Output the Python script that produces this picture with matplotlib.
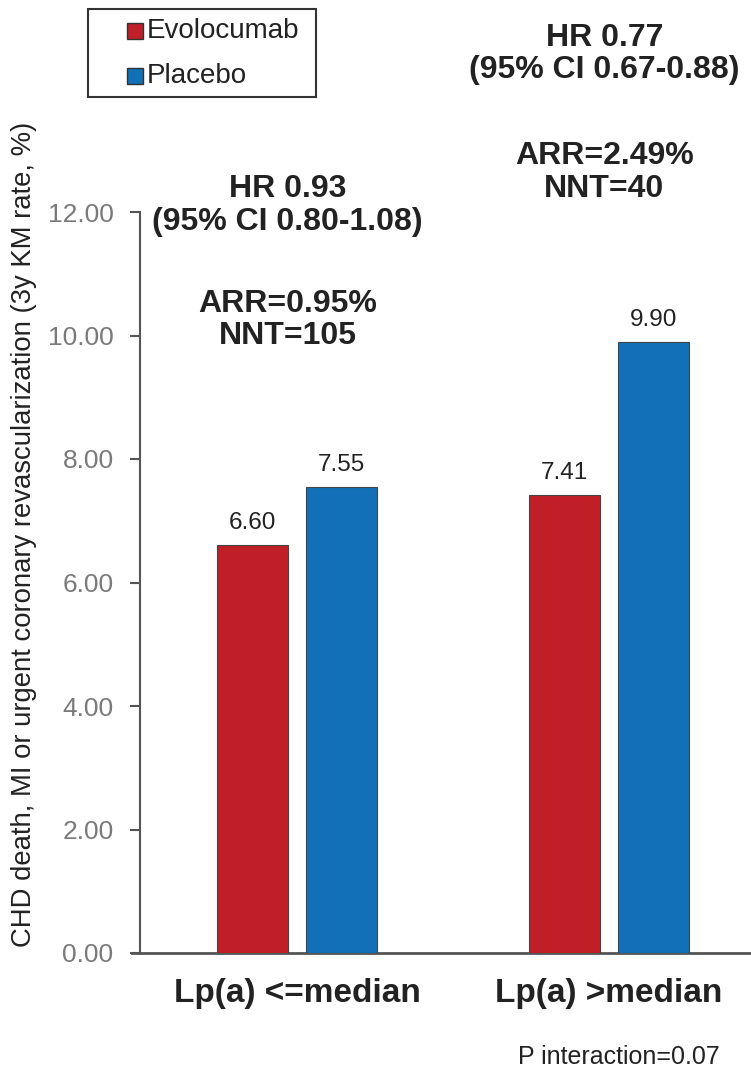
import numpy as np
import matplotlib
matplotlib.use('Agg')
import matplotlib.pyplot as plt
from matplotlib.patches import Rectangle

plt.rcParams['font.family'] = ['Liberation Sans', 'DejaVu Sans']

groups = ['Lp(a) <=median', 'Lp(a) >median']
series = ['Evolocumab', 'Placebo']
evolocumab = [6.60, 7.41]
placebo = [7.55, 9.90]
hr_text = ['HR 0.93\n(95% CI 0.80-1.08)', 'HR 0.77\n(95% CI 0.67-0.88)']
arr_text = ['ARR=0.95%\nNNT=105', 'ARR=2.49%\nNNT=40']
yticks = [0, 2, 4, 6, 8, 10, 12]

# where the stats blocks sit (x in group units, y in axis units)
note_x = [-0.03, 0.985]
hr_y = [12.10, 14.56]
arr_y = [10.25, 12.64]

RED = '#C01F27'
BLUE = '#1170B8'
EDGE = '#444444'
TXT = '#222222'

W, H = 751, 1077
fig = plt.figure(figsize=(W / 100, H / 100), dpi=100)
ax = fig.add_axes([140 / W, 1 - 953 / H, 1 - 140 / W, (953 - 212) / H])

x = np.arange(len(groups))
bw = 0.228
off = 0.142
b1 = ax.bar(x - off, evolocumab, bw, color=RED, edgecolor=EDGE, lw=0.8, zorder=3)
b2 = ax.bar(x + off, placebo, bw, color=BLUE, edgecolor=EDGE, lw=0.8, zorder=3)

for bars, vals in ((b1, evolocumab), (b2, placebo)):
    for r, v in zip(bars, vals):
        ax.annotate(f'{v:.2f}', (r.get_x() + r.get_width() / 2, v),
                    xytext=(0, 8), textcoords='offset points',
                    ha='center', va='bottom', fontsize=17.5, color=TXT)

for i in range(len(groups)):
    ax.text(note_x[i], hr_y[i], hr_text[i], ha='center', va='center', fontsize=23,
            fontweight='bold', color=TXT, linespacing=1.12, clip_on=False)
    ax.text(note_x[i], arr_y[i], arr_text[i], ha='center', va='center', fontsize=23,
            fontweight='bold', color=TXT, linespacing=1.12, clip_on=False)

ax.set_xlim(-0.503, 1.455)
ax.set_ylim(0, 12)
ax.set_yticks(yticks)
ax.set_yticklabels([f'{t:.2f}' for t in yticks], fontsize=19, color='#7a7a7a')
ax.set_xticks(x)
ax.set_xticklabels(groups, fontsize=24, fontweight='bold', color=TXT)
ax.tick_params(axis='x', length=0, pad=18)
ax.tick_params(axis='y', length=7, width=1.5, color='#555555', pad=12)
for s in ('top', 'right'):
    ax.spines[s].set_visible(False)
ax.spines['left'].set_color('#555555')
ax.spines['left'].set_linewidth(1.5)
ax.spines['bottom'].set_color('#555555')
ax.spines['bottom'].set_linewidth(2)
ax.spines['bottom'].set_bounds(-0.53, 1.455)

fig.text(24 / W, 1 - 534 / H,
         'CHD death, MI or urgent coronary revascularization (3y KM rate, %)',
         rotation=90, ha='center', va='center', fontsize=19.8, color=TXT)

fig.text(720 / W, 1 - 1057 / H, 'P interaction=0.07', ha='right', va='center',
         fontsize=18, color=TXT)

# legend box drawn by hand: frame, square swatches, labels
fig.patches.append(Rectangle((88 / W, 1 - 97 / H), (316 - 88) / W, 88 / H,
                             transform=fig.transFigure, fill=False,
                             edgecolor='#333333', lw=1.5))
for name, color, yc in zip(series, (RED, BLUE), (31, 76)):
    fig.patches.append(Rectangle((127 / W, 1 - (yc + 8) / H), 16 / W, 16 / H,
                                 transform=fig.transFigure, facecolor=color,
                                 edgecolor='#333333', lw=1.0))
    fig.text(147 / W, 1 - yc / H, name, ha='left', va='center',
             fontsize=20, color=TXT)

fig.savefig('out.png', dpi=100)
